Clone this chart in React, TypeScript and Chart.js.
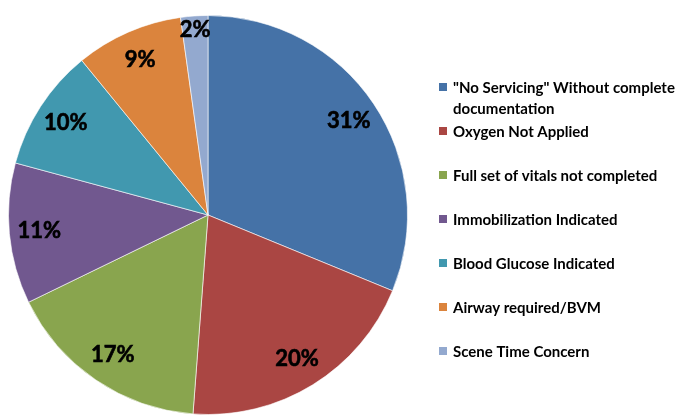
import React, { useEffect, useRef } from 'react';
import { Chart, registerables } from 'chart.js';

Chart.register(...registerables);

const categories: (string | string[])[] = [
  ['"No Servicing" Without complete', 'documentation'],
  'Oxygen Not Applied',
  'Full set of vitals not completed',
  'Immobilization Indicated',
  'Blood Glucose Indicated',
  'Airway required/BVM',
  'Scene Time Concern',
];
const values = [31.2, 20.0, 16.6, 11.4, 9.9, 8.7, 2.2];
const colors = ['#4572A7', '#AA4643', '#89A54E', '#71588F', '#4198AF', '#DB843D', '#93A9CF'];

const FONT = 'Lato, "DejaVu Sans", sans-serif';

const sliceLabels = {
  id: 'sliceLabels',
  afterDatasetsDraw(chart: any) {
    const ctx = chart.ctx;
    const meta = chart.getDatasetMeta(0);
    const data = chart.data.datasets[0].data as number[];
    const total = data.reduce((a, b) => a + b, 0);
    ctx.save();
    ctx.font = `bold 22px ${FONT}`;
    ctx.fillStyle = '#000';
    ctx.textAlign = 'center';
    ctx.textBaseline = 'middle';
    meta.data.forEach((arc: any, i: number) => {
      const { x, y, startAngle, endAngle, outerRadius } = arc.getProps(
        ['x', 'y', 'startAngle', 'endAngle', 'outerRadius'],
        true
      );
      const mid = (startAngle + endAngle) / 2;
      const pct = (data[i] / total) * 100;
      const f = pct < 5 ? 0.93 : 0.85;
      const px = x + Math.cos(mid) * outerRadius * f;
      const py = y + Math.sin(mid) * outerRadius * f;
      const txt = Math.round(pct) + '%';
      ctx.fillText(txt, px, py);
      ctx.lineWidth = 0.6;
      ctx.strokeStyle = '#000';
      ctx.strokeText(txt, px, py);
    });
    ctx.restore();
  },
};

const sideLegend = {
  id: 'sideLegend',
  afterDraw(chart: any) {
    const ctx = chart.ctx;
    const labels = chart.data.labels as (string | string[])[];
    const bg = chart.data.datasets[0].backgroundColor as string[];
    const boxX = 439;
    const textX = 453;
    const firstY = 87;
    const step = 44;
    const lineH = 21;
    ctx.save();
    ctx.font = `bold 15px ${FONT}`;
    ctx.textAlign = 'left';
    ctx.textBaseline = 'middle';
    labels.forEach((lab, i) => {
      const y = firstY + i * step;
      ctx.fillStyle = bg[i];
      ctx.fillRect(boxX, y - 4, 8, 8);
      ctx.fillStyle = '#000';
      const lines = Array.isArray(lab) ? lab : [lab];
      lines.forEach((ln, j) => ctx.fillText(ln, textX, y + j * lineH + 1));
    });
    ctx.restore();
  },
};

export default function App() {
  const ref = useRef<HTMLCanvasElement>(null);
  useEffect(() => {
    if (!ref.current) return;
    const chart = new Chart(ref.current, {
      type: 'pie',
      data: {
        labels: categories as any,
        datasets: [
          {
            data: values,
            backgroundColor: colors,
            borderColor: 'rgba(255,255,255,0.6)',
            borderWidth: 1,
          },
        ],
      },
      options: {
        animation: false,
        responsive: false,
        layout: { padding: { left: 8, top: 15, right: 270, bottom: 2 } },
        plugins: {
          legend: { display: false },
          tooltip: { enabled: false },
        },
      },
      plugins: [sliceLabels, sideLegend],
    });
    return () => chart.destroy();
  }, []);
  return (
    <div style={{ position: 'fixed', left: 0, top: 0, width: 678, height: 417, background: '#fff' }}>
      <canvas ref={ref} width={678} height={417} style={{ width: 678, height: 417 }} />
    </div>
  );
}
